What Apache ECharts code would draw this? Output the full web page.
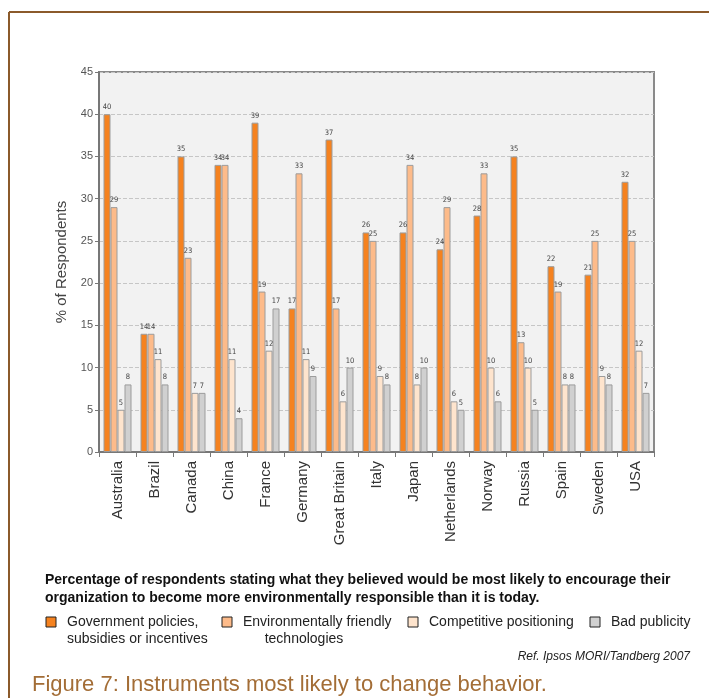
<!DOCTYPE html>
<html>
<head>
<meta charset="utf-8">
<script src="https://cdn.jsdelivr.net/npm/echarts@6/dist/echarts.min.js"></script>
<style>
  html, body { margin: 0; padding: 0; background: #ffffff; }
  #chart { width: 709px; height: 698px; }
</style>
</head>
<body>
<div id="chart"></div>
<script>
// Countries surveyed
const countries = ['Australia', 'Brazil', 'Canada', 'China', 'France', 'Germany', 'Great Britain',
  'Italy', 'Japan', 'Netherlands', 'Norway', 'Russia', 'Spain', 'Sweden', 'USA'];

// % of respondents per instrument
const governmentPolicies = [40, 14, 35, 34, 39, 17, 37, 26, 26, 24, 28, 35, 22, 21, 32];
const friendlyTechnologies = [29, 14, 23, 34, 19, 33, 17, 25, 34, 29, 33, 13, 19, 25, 25];
const competitivePositioning = [5, 11, 7, 11, 12, 11, 6, 9, 8, 6, 10, 10, 8, 9, 12];
const badPublicity = [8, 8, 7, 4, 17, 9, 10, 8, 10, 5, 6, 5, 8, 8, 7];

// Legend entries (each label may span two lines)
const legendLines = [
  ['Government policies,', 'subsidies or incentives'],
  ['Environmentally friendly', 'technologies'],
  ['Competitive positioning'],
  ['Bad publicity']
];

const seriesColors = ['#f5821f', '#fdbb8a', '#fee4cd', '#d0d0d0'];
const seriesData = [governmentPolicies, friendlyTechnologies, competitivePositioning, badPublicity];

const chart = echarts.init(document.getElementById('chart'), null, { renderer: 'canvas' });

const series = seriesData.map((values, i) => ({
  name: legendLines[i].join(' '),
  type: 'bar',
  data: values,
  barWidth: 7,
  barGap: '0%',
  itemStyle: { color: seriesColors[i], borderColor: '#9c9c9c', borderWidth: 1 },
  label: {
    show: true,
    position: 'top',
    distance: 3,
    fontSize: 7.5,
    color: '#444',
    fontFamily: '"Liberation Sans Narrow", "DejaVu Sans Condensed", "Liberation Sans"'
  },
  emphasis: { disabled: true }
}));

// Legend built from graphic elements so two-line labels sit under the text start
const legendX = [46, 222, 408, 590];
const legendFont = '14px "Liberation Sans"';
const legendGraphics = [];
legendLines.forEach((lines, i) => {
  legendGraphics.push({
    type: 'rect',
    shape: { x: legendX[i], y: 617, width: 10, height: 10 },
    style: { fill: seriesColors[i], stroke: '#222', lineWidth: 1 }
  });
  legendGraphics.push({
    type: 'text',
    style: {
      x: legendX[i] + 21, y: 622, text: lines[0],
      font: legendFont, fill: '#222', verticalAlign: 'middle'
    }
  });
  if (lines[1]) {
    legendGraphics.push({
      type: 'text',
      style: {
        x: i === 1 ? 304 : legendX[i] + 21, y: 639, text: lines[1],
        font: legendFont, fill: '#222', verticalAlign: 'middle',
        align: i === 1 ? 'center' : 'left'
      }
    });
  }
});

chart.setOption({
  animation: false,
  backgroundColor: '#ffffff',
  grid: {
    left: 99, right: 55, top: 72, bottom: 246,
    show: true, backgroundColor: '#f2f2f2', borderColor: '#8a8a8a', borderWidth: 2
  },
  xAxis: {
    type: 'category',
    data: countries,
    axisLine: { lineStyle: { color: '#777', width: 2 } },
    axisTick: { show: true, length: 5, lineStyle: { color: '#777' } },
    axisLabel: {
      rotate: 90, fontSize: 15, color: '#333', margin: 9,
      fontFamily: 'Liberation Sans', interval: 0
    }
  },
  yAxis: {
    type: 'value',
    min: 0, max: 45, interval: 5,
    name: '% of Respondents',
    nameLocation: 'middle',
    nameGap: 30,
    nameTextStyle: { fontSize: 15, color: '#444', fontFamily: 'Liberation Sans' },
    axisLine: { show: true, lineStyle: { color: '#777', width: 2 } },
    axisTick: { show: true, length: 4, lineStyle: { color: '#777' } },
    axisLabel: { fontSize: 11, color: '#555', margin: 6, fontFamily: 'Liberation Sans' },
    splitLine: { show: true, lineStyle: { color: '#c6c6c6', type: 'dashed', width: 1 } }
  },
  series: series,
  graphic: [
    // brown page frame
    { type: 'line', shape: { x1: 9, y1: 12, x2: 709, y2: 12 }, style: { stroke: '#8b5a2b', lineWidth: 2 } },
    { type: 'line', shape: { x1: 9, y1: 12, x2: 9, y2: 698 }, style: { stroke: '#8b5a2b', lineWidth: 2 } },
    {
      type: 'text',
      style: {
        x: 45, y: 580, text: 'Percentage of respondents stating what they believed would be most likely to encourage their',
        font: 'bold 14px "Liberation Sans"', fill: '#111', verticalAlign: 'middle'
      }
    },
    {
      type: 'text',
      style: {
        x: 45, y: 598, text: 'organization to become more environmentally responsible than it is today.',
        font: 'bold 14px "Liberation Sans"', fill: '#111', verticalAlign: 'middle'
      }
    },
    ...legendGraphics,
    {
      type: 'text',
      style: {
        x: 690, y: 657, text: 'Ref. Ipsos MORI/Tandberg 2007',
        font: 'italic 12px "Liberation Sans"', fill: '#222', verticalAlign: 'middle', align: 'right'
      }
    },
    {
      type: 'text',
      style: {
        x: 32, y: 685, text: 'Figure 7: Instruments most likely to change behavior.',
        font: '22px "Liberation Sans"', fill: '#a36d36', verticalAlign: 'middle'
      }
    }
  ]
});
</script>
</body>
</html>
